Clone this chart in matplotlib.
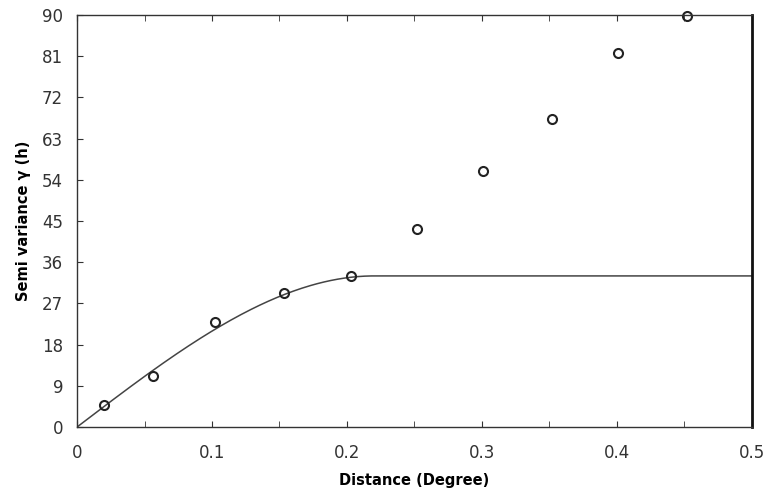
import numpy as np
import matplotlib.pyplot as plt

distance = [0.02, 0.056, 0.102, 0.153, 0.203, 0.252, 0.301, 0.352, 0.401, 0.452]
semivar = [4.9, 11.1, 22.9, 29.2, 33.0, 43.2, 55.9, 67.2, 81.7, 89.7]

# fitted spherical model
nugget = 0.0
sill = 33.0
model_range = 0.22

x_ticks = [0.0, 0.1, 0.2, 0.3, 0.4, 0.5]
x_labels = ["0", "0.1", "0.2", "0.3", "0.4", "0.5"]
y_ticks = [0, 9, 18, 27, 36, 45, 54, 63, 72, 81, 90]


def spherical(h, c0, c, a):
    h = np.asarray(h, dtype=float)
    r = np.clip(h / a, 0, 1)
    return c0 + (c - c0) * (1.5 * r - 0.5 * r ** 3)


fig = plt.figure(figsize=(7.74, 4.96), dpi=100)
ax = fig.add_axes([0.0995, 0.139, 0.872, 0.831])

h = np.linspace(0, 0.5, 400)
ax.plot(h, spherical(h, nugget, sill, model_range), color="#444444", lw=1.1)
ax.plot(distance, semivar, "o", mfc="none", mec="#222222", mew=1.5, ms=6.5,
        clip_on=False)

ax.set_xlim(0, 0.5)
ax.set_ylim(0, 90)
ax.set_xticks(x_ticks)
ax.set_xticklabels(x_labels)
ax.set_xticks(np.arange(0.05, 0.5, 0.1), minor=True)
ax.set_yticks(y_ticks)

ax.tick_params(axis="both", which="both", direction="in", top=True,
               labelsize=12, colors="#333333", length=4)
ax.tick_params(axis="x", pad=12)
ax.tick_params(axis="y", pad=10)

for side in ["left", "bottom", "top"]:
    ax.spines[side].set_color("#333333")
    ax.spines[side].set_linewidth(1.0)
ax.spines["right"].set_color("#111111")
ax.spines["right"].set_linewidth(2.0)

ax.set_xlabel("Distance (Degree)", fontsize=10.5, fontweight="bold", labelpad=8)
ax.set_ylabel("Semi variance γ (h)", fontsize=10.5, fontweight="bold", labelpad=8)

fig.savefig("out.png", dpi=100)
